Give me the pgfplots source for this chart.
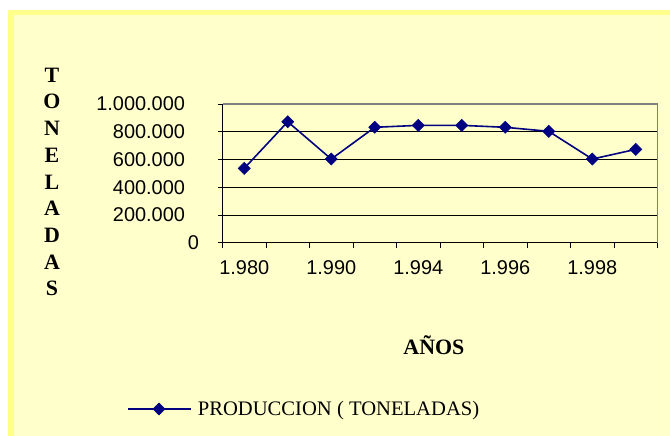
\documentclass[border=0pt]{standalone}
\usepackage{pgfplots}
\pgfplotsset{compat=1.18}
\usepackage{fontspec}
\setmainfont{Liberation Serif}
\newfontfamily\arialfont{Liberation Sans}
\definecolor{bgyel}{HTML}{FFFFCC}
\definecolor{bdyel}{HTML}{FFFF8C}
\definecolor{navyline}{HTML}{000080}
\definecolor{boxgray}{HTML}{808080}
\begin{document}
\begin{tikzpicture}
\useasboundingbox (0,0) rectangle (670bp,436bp);
\fill[white] (0,0) rectangle (670bp,436bp);
\fill[bdyel] (8bp,0) rectangle (670bp,426bp);
\fill[bgyel] (13.5bp,0) rectangle (670bp,420.5bp);
\begin{axis}[
  at={(222.5bp,193.3bp)}, anchor=south west,
  scale only axis, width=435bp, height=138.7bp,
  xmin=-0.5, xmax=9.5, ymin=0, ymax=1000000,
  axis x line*=bottom, axis y line*=left,
  axis line style={black, line width=0.8pt},
  xtick={-0.5,0.5,...,9.5},
  x tick label as interval,
  xticklabels={1.980,,1.990,,1.994,,1.996,,1.998,},
  ytick={0,200000,400000,600000,800000,1000000},
  yticklabels={0\hspace*{-14bp},200.000,400.000,600.000,800.000,1.000.000},
  scaled y ticks=false,
  tick align=outside,
  major tick length=5bp,
  tick style={black, line width=0.8pt},
  ymajorgrids, grid style={black, line width=0.6pt},
  /pgf/number format/assume math mode=true,
  ticklabel style={font=\arialfont\fontsize{20}{23}\selectfont},
  yticklabel style={xshift=-29bp},
  xticklabel style={yshift=-9bp},
  xlabel={AÑOS},
  xlabel style={at={(axis description cs:0.486,-0.7376)}, anchor=center, font=\bfseries\fontsize{22}{25}\selectfont},
  ylabel={T\\O\\N\\E\\L\\A\\D\\A\\S},
  ylabel style={at={(axis description cs:-0.392,0.4377)}, anchor=center, rotate=-90, align=center, font=\bfseries\fontsize{22}{26.8}\selectfont},
  legend style={at={(axis description cs:-0.2195,-1.199)}, anchor=west, draw=none, fill=none, inner sep=0pt, font=\fontsize{20.7}{24}\selectfont, nodes={inner xsep=6bp}},
  legend image code/.code={\draw[mark repeat=2, mark phase=2, #1] plot coordinates {(0bp,0bp) (31bp,0bp) (63bp,0bp)};},
  clip=false,
  after end axis/.code={
    \draw[boxgray, line width=1.6pt] (rel axis cs:0,1) -- (rel axis cs:1,1) -- (rel axis cs:1,0);
  },
]
\addplot[navyline, line width=1.6pt, mark=square*, mark size=4.3bp, mark options={rotate=45, fill=navyline, line width=0.5pt}]
  coordinates {(0,536000) (1,872000) (2,603000) (3,832000) (4,846000) (5,846000) (6,832000) (7,803000) (8,603000) (9,673000)};
\addlegendentry{PRODUCCION ( TONELADAS)}
\end{axis}
\end{tikzpicture}
\end{document}
